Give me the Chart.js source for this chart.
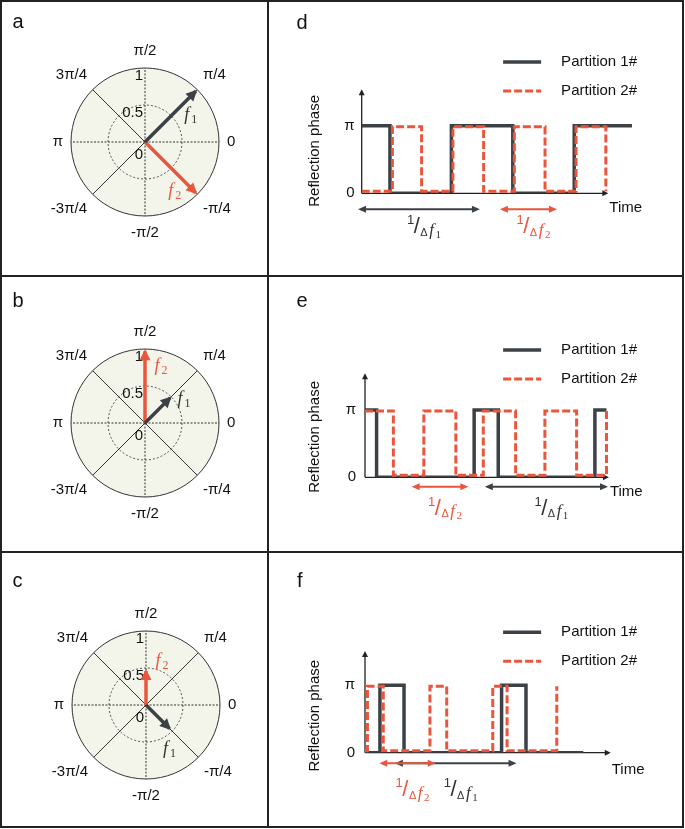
<!DOCTYPE html>
<html lang="en">
<head>
<meta charset="UTF-8">
<title>Reflection phase coding of two partitions</title>
<script src="https://cdn.jsdelivr.net/npm/chart.js"></script>
<style>
  body { margin: 0; background: #fff; font-family: 'Liberation Sans', Arial, sans-serif; }
  #figure { position: absolute; left: 0; top: 0; width: 684px; height: 828px; }
  .cell { position: absolute; }
  .rule { position: absolute; background: #222; }
  .frame { position: absolute; left: 0; top: 0; width: 684px; height: 828px; box-sizing: border-box; border: 2px solid #222; }
  .letter { position: absolute; font-size: 20px; line-height: 20px; color: #111; }
</style>
</head>
<body>
<div id="figure">
  <div class="cell" style="left:2px;top:2px;width:265px;height:273px"><canvas id="chartA"></canvas></div>
  <div class="cell" style="left:269px;top:2px;width:413px;height:273px"><canvas id="chartD"></canvas></div>
  <div class="cell" style="left:2px;top:277px;width:265px;height:274px"><canvas id="chartB"></canvas></div>
  <div class="cell" style="left:269px;top:277px;width:413px;height:274px"><canvas id="chartE"></canvas></div>
  <div class="cell" style="left:2px;top:553px;width:265px;height:273px"><canvas id="chartC"></canvas></div>
  <div class="cell" style="left:269px;top:553px;width:413px;height:273px"><canvas id="chartF"></canvas></div>

  <div class="rule" style="left:267px;top:0;width:2px;height:828px"></div>
  <div class="rule" style="left:0;top:275px;width:684px;height:2px"></div>
  <div class="rule" style="left:0;top:551px;width:684px;height:2px"></div>
  <div class="frame"></div>

  <div class="letter" style="left:12.5px;top:11px">a</div>
  <div class="letter" style="left:296.5px;top:11.5px">d</div>
  <div class="letter" style="left:12.5px;top:290px">b</div>
  <div class="letter" style="left:296.5px;top:290px">e</div>
  <div class="letter" style="left:12.5px;top:570px">c</div>
  <div class="letter" style="left:297px;top:570px">f</div>
</div>

<script>
    const SANS = "'Liberation Sans', Arial, sans-serif";
    const SERIF = "'Liberation Serif', 'Times New Roman', serif";
    const DARK = '#3c4146';
    const RED = '#ea553d';

    Chart.defaults.font.family = SANS;
    Chart.defaults.color = '#111';
    Chart.defaults.animation = false;

    // ---- polar diagrams (a, b, c): amplitude of f1 / f2 per phase direction ----
    const phaseLabels = ['π/2', 'π/4', '0', '-π/4', '-π/2', '-3π/4', 'π', '3π/4'];
    const radialTicks = [0, 0.5, 1];
    const radialTickLabels = ['0', '0.5', '1'];

    const aF1 = [0, 0.97, 0, 0, 0, 0, 0, 0];
    const aF2 = [0, 0, 0, 0.97, 0, 0, 0, 0];
    const bF1 = [0, 0.48, 0, 0, 0, 0, 0, 0];
    const bF2 = [0.97, 0, 0, 0, 0, 0, 0, 0];
    const cF1 = [0, 0, 0, 0.45, 0, 0, 0, 0];
    const cF2 = [0.46, 0, 0, 0, 0, 0, 0, 0];

    // ---- reflection phase vs time (d, e, f), phase in units of π ----
    const phaseTicks = [0, 1];
    const phaseTickLabels = ['0', 'π'];

    const dTime1 = [0, 0.92, 2.92, 4.92, 6.92, 8.8];
    const dPhase1 = [1, 0, 1, 0, 1, 1];
    const dTime2 = [0, 1, 1.95, 2.97, 3.97, 4.97, 5.97, 6.98, 7.95];
    const dPhase2 = [0.03, 0.985, 0.03, 0.985, 0.03, 0.985, 0.03, 0.985, 0.03];
    const dSpan1 = [-0.12, 3.85];
    const dSpan2 = [4.5, 6.36];

    const eTime1 = [0, 0.38, 3.58, 4.37, 7.54, 7.92];
    const ePhase1 = [1, 0, 1, 0, 1, 1];
    const eTime2 = [0, 0.93, 1.93, 2.98, 3.88, 4.94, 5.9, 6.94, 7.92];
    const ePhase2 = [0.985, 0.03, 0.985, 0.03, 0.985, 0.03, 0.985, 0.03, 0.985];
    const eSpan1 = [3.93, 7.97];
    const eSpan2 = [1.53, 3.39];

    const fTime1 = [0, 0.49, 1.28, 4.48, 5.28, 7.16];
    const fPhase1 = [0, 1, 0, 1, 0, 0];
    const fTime2 = [0, 0.08, 0.6, 2.13, 2.68, 4.19, 4.66, 6.29];
    const fPhase2 = [0.03, 0.985, 0.03, 0.985, 0.03, 0.985, 0.03, 0.985];
    const fSpan1 = [0.98, 4.97];
    const fSpan2 = [0.47, 2.32];

    function pts(times, phases) {
        return times.map((t, i) => ({ x: t, y: phases[i] }));
    }

    function arrowHead(ctx, tx, ty, ux, uy, len, half) {
        ctx.beginPath();
        ctx.moveTo(tx, ty);
        ctx.lineTo(tx - ux * len - uy * half, ty - uy * len + ux * half);
        ctx.lineTo(tx - ux * len + uy * half, ty - uy * len - ux * half);
        ctx.closePath();
        ctx.fill();
    }

    // arrowheads on the vectors, f labels and the radial tick labels
    const polarDecor = {
        id: 'polarDecor',
        afterDatasetsDraw(chart) {
            const ctx = chart.ctx;
            const r = chart.scales.r;
            ctx.save();
            ctx.font = '15px ' + SANS;
            ctx.fillStyle = '#111';
            ctx.textAlign = 'right';
            ctx.textBaseline = 'top';
            radialTicks.forEach((v, i) => {
                const d = r.getDistanceFromCenterForValue(v);
                const y = v === 0 ? r.yCenter + 5 : r.yCenter - d;
                ctx.fillText(radialTickLabels[i], r.xCenter - 2, y);
            });

            chart.data.datasets.forEach((ds, di) => {
                const meta = chart.getDatasetMeta(di);
                let k = 0;
                ds.data.forEach((v, j) => { if (v > ds.data[k]) k = j; });
                const p = meta.data[k];
                const dx = p.x - r.xCenter, dy = p.y - r.yCenter;
                const len = Math.hypot(dx, dy);
                const ux = dx / len, uy = dy / len;
                ctx.fillStyle = ds.borderColor;
                arrowHead(ctx, p.x + ux * 2, p.y + uy * 2, ux, uy, 11, 5.5);

                const lx = p.x + ds.labelOffset[0], ly = p.y + ds.labelOffset[1];
                ctx.textAlign = 'left';
                ctx.textBaseline = 'alphabetic';
                ctx.font = 'italic 18px ' + SERIF;
                const wf = ctx.measureText('f').width;
                ctx.font = '12px ' + SERIF;
                const ws = ctx.measureText(ds.sub).width;
                const x0 = lx - (wf + ws + 2) / 2;
                ctx.fillStyle = di === 0 ? '#333' : RED;
                ctx.font = 'italic 18px ' + SERIF;
                ctx.fillText('f', x0, ly + 4);
                ctx.font = '12px ' + SERIF;
                ctx.fillText(ds.sub, x0 + wf + 2, ly + 7);
            });
            ctx.restore();
        }
    };

    function polarChart(id, f1, f2, cfg) {
        return new Chart(document.getElementById(id), {
            type: 'radar',
            data: {
                labels: phaseLabels,
                datasets: [
                    { label: 'f1', data: f1, borderColor: DARK, fill: false, sub: '1', labelOffset: cfg.f1Label },
                    { label: 'f2', data: f2, borderColor: RED, fill: false, sub: '2', labelOffset: cfg.f2Label }
                ]
            },
            options: {
                responsive: true,
                maintainAspectRatio: false,
                events: [],
                layout: { padding: cfg.padding },
                elements: {
                    point: { radius: 0, hoverRadius: 0 },
                    line: { borderWidth: 3.5, tension: 0, borderJoinStyle: 'bevel' }
                },
                plugins: { legend: { display: false }, tooltip: { enabled: false } },
                scales: {
                    r: {
                        min: 0,
                        max: 1,
                        backgroundColor: '#f3f5ea',
                        ticks: { display: false, stepSize: 0.5 },
                        grid: {
                            circular: true,
                            lineWidth: 1,
                            color: c => (c.tick && c.tick.value === 0.5 ? '#555' : '#333')
                        },
                        border: { dash: c => (c.tick && c.tick.value === 0.5 ? [2, 2] : []) },
                        angleLines: {
                            color: '#333',
                            lineWidth: 1,
                            borderDash: c => (c.index % 2 === 0 ? [2, 1.5] : [])
                        },
                        pointLabels: { font: { size: 15 }, color: '#111', padding: 8 }
                    }
                }
            },
            plugins: [polarDecor]
        });
    }

    function drawPeriodLabel(ctx, cx, top, sub, color) {
        const parts = [
            ['1', '13px ' + SANS, 9, 0],
            ['/', '22px ' + SANS, 18, -0.5],
            ['Δ', '11px ' + SANS, 20.5, 0.5],
            ['f', 'italic 17px ' + SERIF, 19.5, 1.5],
            [sub, '11px ' + SERIF, 22.5, 1.5]
        ];
        ctx.save();
        ctx.fillStyle = color;
        ctx.textAlign = 'left';
        ctx.textBaseline = 'alphabetic';
        const widths = parts.map(p => { ctx.font = p[1]; return ctx.measureText(p[0]).width; });
        const total = widths.reduce((s, w, i) => s + w + parts[i][3], 0);
        let x = cx - total / 2;
        parts.forEach((p, i) => {
            x += p[3];
            ctx.font = p[1];
            ctx.fillText(p[0], x, top + p[2]);
            x += widths[i];
        });
        ctx.restore();
    }

    // axes with arrows, "Time", and the 1/Δf period arrows under the axis
    function phaseDecor(cfg) {
        return {
            id: 'phaseDecor',
            beforeDatasetsDraw(chart) {
                const { ctx, scales: { x, y } } = chart;
                const x0 = x.getPixelForValue(0), y0 = y.getPixelForValue(0);
                const xt = x.getPixelForValue(cfg.axisTip[0]);
                const yt = y.getPixelForValue(cfg.axisTip[1]);
                ctx.save();
                ctx.strokeStyle = '#222';
                ctx.fillStyle = '#222';
                ctx.lineWidth = 1.3;
                ctx.beginPath();
                ctx.moveTo(x0, y0);
                ctx.lineTo(xt - 4, y0);
                ctx.moveTo(x0, y0);
                ctx.lineTo(x0, yt + 4);
                ctx.stroke();
                arrowHead(ctx, xt, y0, 1, 0, 6, 3);
                arrowHead(ctx, x0, yt, 0, -1, 6, 3);
                ctx.font = '15px ' + SANS;
                ctx.fillStyle = '#111';
                ctx.textAlign = 'left';
                ctx.textBaseline = 'middle';
                ctx.fillText('Time', xt + 1, y0 + cfg.timeGap);
                ctx.restore();
            },
            afterDatasetsDraw(chart) {
                const { ctx, scales: { x, y } } = chart;
                const y0 = y.getPixelForValue(0);
                const ya = y0 + cfg.arrowGap;
                cfg.spans.forEach(s => {
                    const a = x.getPixelForValue(s.range[0]);
                    const b = x.getPixelForValue(s.range[1]);
                    ctx.save();
                    ctx.strokeStyle = s.color;
                    ctx.fillStyle = s.color;
                    ctx.lineWidth = 2;
                    ctx.beginPath();
                    ctx.moveTo(a + 5, ya);
                    ctx.lineTo(b - 5, ya);
                    ctx.stroke();
                    arrowHead(ctx, a, ya, -1, 0, 8, 3.5);
                    arrowHead(ctx, b, ya, 1, 0, 8, 3.5);
                    ctx.restore();
                    drawPeriodLabel(ctx, (a + b) / 2 + 5, y0 + cfg.labelTop, s.sub, s.color === RED ? RED : '#333');
                });
            }
        };
    }

    function phaseChart(id, cfg) {
        return new Chart(document.getElementById(id), {
            type: 'line',
            data: {
                datasets: [
                    { label: 'Partition 1#', data: pts(cfg.t1, cfg.p1), borderColor: DARK, borderWidth: 3.5, stepped: 'before', fill: false, order: 1 },
                    { label: 'Partition 2#', data: pts(cfg.t2, cfg.p2), borderColor: RED, borderWidth: 3, borderDash: [8, 3], stepped: 'before', fill: false, order: 0 }
                ]
            },
            options: {
                responsive: true,
                maintainAspectRatio: false,
                events: [],
                layout: { padding: { left: 0, top: cfg.padTop, right: 31, bottom: cfg.padBottom } },
                elements: { point: { radius: 0, hoverRadius: 0 } },
                plugins: {
                    tooltip: { enabled: false },
                    legend: {
                        position: 'top',
                        align: 'end',
                        fullSize: false,
                        labels: {
                            usePointStyle: true,
                            pointStyle: 'line',
                            pointStyleWidth: 38,
                            padding: 14,
                            font: { size: 15 },
                            color: '#111',
                            generateLabels: chart => chart.data.datasets.map((ds, i) => ({
                                text: '   ' + ds.label,
                                strokeStyle: ds.borderColor,
                                fillStyle: ds.borderColor,
                                lineWidth: ds.borderWidth,
                                lineDash: ds.borderDash || [],
                                pointStyle: 'line',
                                fontColor: '#111',
                                hidden: false,
                                datasetIndex: i
                            }))
                        }
                    }
                },
                scales: {
                    x: { type: 'linear', display: false, min: 0, max: cfg.xMax },
                    y: {
                        type: 'linear',
                        min: 0,
                        max: cfg.yMax,
                        afterBuildTicks: ax => { ax.ticks = phaseTicks.map(v => ({ value: v })); },
                        afterFit: ax => { ax.width = cfg.axisX; },
                        grid: { display: false, drawTicks: false },
                        border: { display: false },
                        ticks: {
                            padding: cfg.tickPad,
                            font: { size: 15 },
                            color: '#111',
                            callback: (v, i) => phaseTickLabels[i]
                        },
                        title: {
                            display: true,
                            text: 'Reflection phase',
                            font: { size: 15 },
                            color: '#111',
                            padding: { top: 37, bottom: 0 }
                        }
                    }
                }
            },
            plugins: [phaseDecor(cfg)]
        });
    }

    polarChart('chartA', aF1, aF2, {
        padding: { left: 42, right: 23, top: 40, bottom: 33 },
        f1Label: [-5, 25], f2Label: [-21, -1]
    });
    polarChart('chartB', bF1, bF2, {
        padding: { left: 42, right: 23, top: 46, bottom: 28 },
        f1Label: [14, 2], f2Label: [16, 16]
    });
    polarChart('chartC', cF1, cF2, {
        padding: { left: 43, right: 22, top: 52, bottom: 21 },
        f1Label: [0, 21], f2Label: [16, -9]
    });

    phaseChart('chartD', {
        t1: dTime1, p1: dPhase1, t2: dTime2, p2: dPhase2,
        spans: [{ range: dSpan1, color: DARK, sub: '1' }, { range: dSpan2, color: RED, sub: '2' }],
        padTop: 38.5, padBottom: 81.7, xMax: 9.42, yMax: 1.254, axisX: 92.7, tickPad: 7,
        axisTip: [8.03, 1.54], timeGap: 15, arrowGap: 16, labelTop: 21.7
    });
    phaseChart('chartE', {
        t1: eTime1, p1: ePhase1, t2: eTime2, p2: ePhase2,
        spans: [{ range: eSpan1, color: DARK, sub: '1' }, { range: eSpan2, color: RED, sub: '2' }],
        padTop: 51.5, padBottom: 73.7, xMax: 9.38, yMax: 1.2, axisX: 96, tickPad: 9,
        axisTip: [8.0, 1.545], timeGap: 14.4, arrowGap: 9.4, labelTop: 19.4
    });
    phaseChart('chartF', {
        t1: fTime1, p1: fPhase1, t2: fTime2, p2: fPhase2,
        spans: [{ range: fSpan1, color: DARK, sub: '1' }, { range: fSpan2, color: RED, sub: '2' }],
        padTop: 57.8, padBottom: 73.3, xMax: 9.38, yMax: 1.096, axisX: 96, tickPad: 10,
        axisTip: [8.06, 1.51], timeGap: 17.3, arrowGap: 10.6, labelTop: 25.3
    });
</script>
</body>
</html>
